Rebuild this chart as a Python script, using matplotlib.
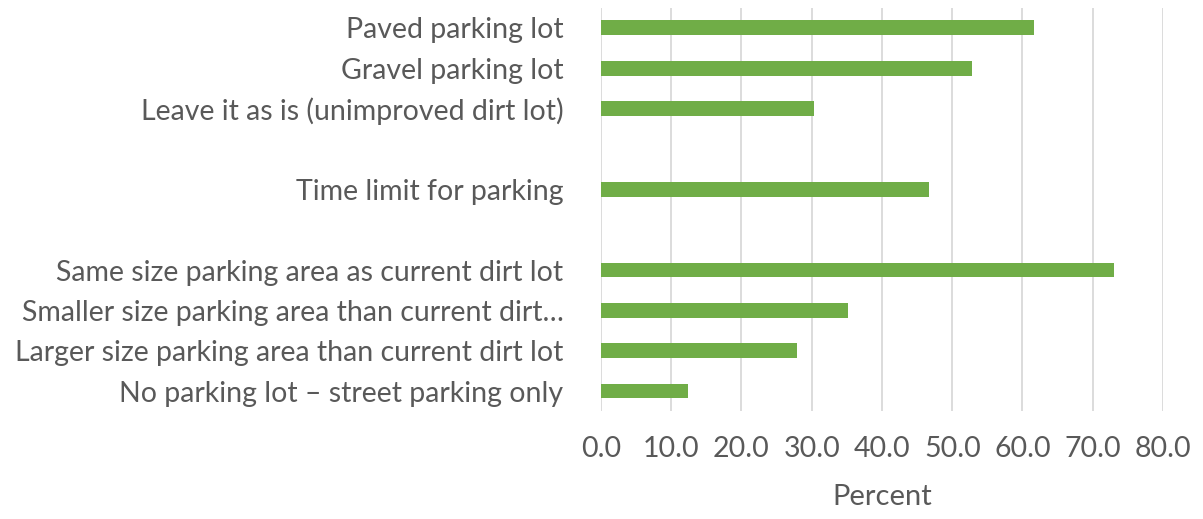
import numpy as np
import matplotlib
matplotlib.use("Agg")
import matplotlib.pyplot as plt

# data, top to bottom (blank rows are empty categories)
labels = ["Paved parking lot",
          "Gravel parking lot",
          "Leave it as is (unimproved dirt lot)",
          "",
          "Time limit for parking",
          "",
          "Same size parking area as current dirt lot",
          "Smaller size parking area than current dirt\u2026",
          "Larger size parking area than current dirt lot",
          "No parking lot \u2013 street parking only"]
percent = [61.7, 52.8, 30.3, np.nan, 46.7, np.nan, 73.0, 35.2, 27.9, 12.4]
xticks = [0, 10, 20, 30, 40, 50, 60, 70, 80]

plt.rcParams['font.family'] = ['Lato', 'DejaVu Sans']
text_col = '#595959'

fig = plt.figure(figsize=(12.03, 5.19), dpi=100)
ax = fig.add_axes([0.4996, 0.2077, 0.4671, 0.7773])

y = np.arange(len(labels))
ax.barh(y, percent, height=0.37, color='#70AD47')
ax.set_ylim(len(labels) - 0.5, -0.5)
ax.set_xlim(0, 80)

ax.set_yticks(y)
ax.set_yticklabels(labels, fontsize=20.5, color=text_col)
ax.set_xticks(xticks)
ax.set_xticklabels([f"{v:.1f}" for v in xticks], fontsize=20.5, color=text_col)
ax.tick_params(axis='y', length=0, pad=27)
ax.tick_params(axis='x', length=0, pad=18)
ax.set_xlabel("Percent", fontsize=21, color=text_col, labelpad=16)

ax.grid(axis='x', color='#d9d9d9', linewidth=1.3)
ax.set_axisbelow(True)
for s in ax.spines.values():
    s.set_visible(False)

fig.savefig("out.png", dpi=100)
